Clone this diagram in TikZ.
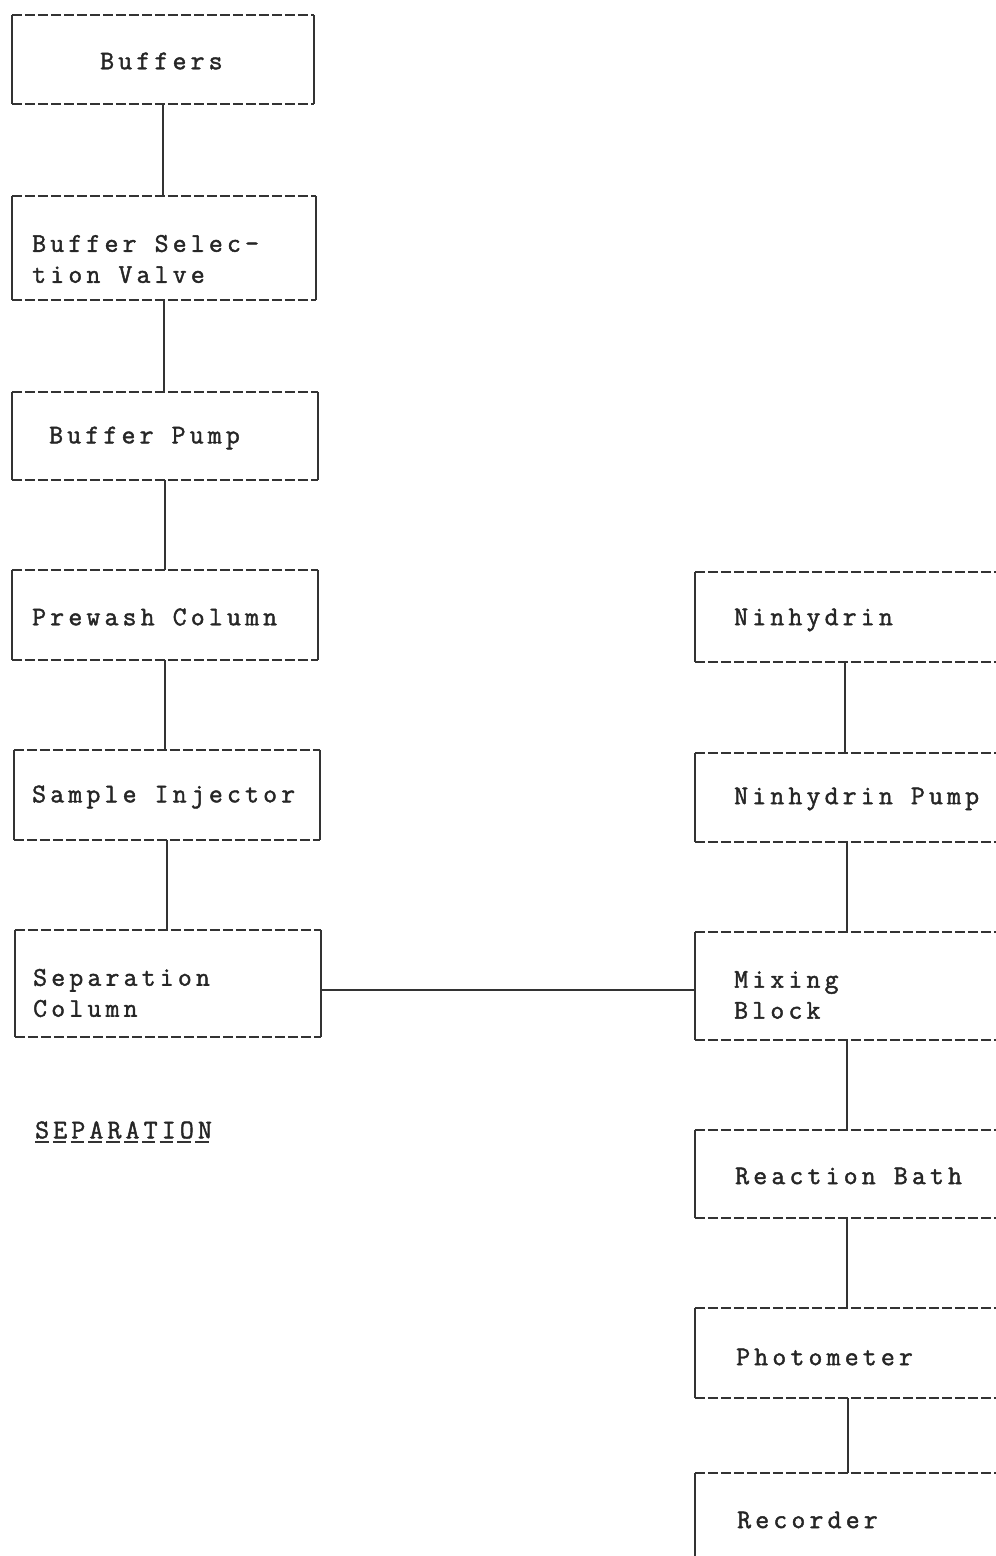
\documentclass[tikz,border=0pt]{standalone}
\usepackage{fontspec}
\newfontfamily\twfont{Latin Modern Mono}[LetterSpace=15.5,FakeBold=1.6]
\begin{document}
\begin{tikzpicture}[x=1pt,y=-1pt,
  ink/.style={draw=black!80, line width=1.7pt},
  dashline/.style={ink, dash pattern=on 10pt off 3pt},
  box/.style={inner sep=0pt, rectangle},
  lbl/.style={inner sep=0pt, anchor=west, align=left, text=black!85,
    font=\fontsize{27}{31}\selectfont\twfont},
  conn/.style={ink}
]
\useasboundingbox (0,0) rectangle (996,1556);
\clip (0,0) rectangle (996,1556);
\newcommand\boxlines[1]{%
  \draw[dashline] (#1.north west) -- (#1.north east);
  \draw[dashline] (#1.south west) -- (#1.south east);
  \draw[ink] (#1.north west) -- (#1.south west);
  \draw[ink] (#1.north east) -- (#1.south east);}

% left column boxes
\node[box, minimum width=302pt, minimum height=89pt] (buf) at (163,59.5) {};
\node[box, minimum width=304pt, minimum height=104pt] (bsv) at (164,248) {};
\node[box, minimum width=306pt, minimum height=88pt] (bp) at (165,436) {};
\node[box, minimum width=306pt, minimum height=90pt] (pw) at (165,615) {};
\node[box, minimum width=306pt, minimum height=90pt] (si) at (167,795) {};
\node[box, minimum width=306pt, minimum height=107pt] (sc) at (168,983.5) {};
\foreach \n in {buf,bsv,bp,pw,si,sc} {\boxlines{\n}}

% right column boxes (cut off at right edge)
\node[box, minimum width=330pt, minimum height=90pt] (nin) at (860,617) {};
\node[box, minimum width=330pt, minimum height=89pt] (np) at (860,797.5) {};
\node[box, minimum width=330pt, minimum height=108pt] (mb) at (860,986) {};
\node[box, minimum width=330pt, minimum height=88pt] (rb) at (860,1174) {};
\node[box, minimum width=330pt, minimum height=90pt] (ph) at (860,1353) {};
\node[box, minimum width=330pt, minimum height=160pt] (rec) at (860,1553) {};
\foreach \n in {nin,np,mb,rb,ph,rec} {\boxlines{\n}}

% labels
\node[lbl] (buft) at (100,61) {Buffers};
\node[lbl] (bsvt) at (32,259) {Buffer Selec-\\tion Valve};
\node[lbl] (bpt) at (49,438) {Buffer Pump};
\node[lbl] (pwt) at (32,617) {Prewash Column};
\node[lbl] (sit) at (32,797) {Sample Injector};
\node[lbl] (sct) at (33,993) {Separation\\Column};
\node[lbl] (sept) at (35,1130) {SEPARATION};
\draw[dashline, line width=1.5pt, dash pattern=on 13.5pt off 4.3pt] ([yshift=-3pt]sept.south west) -- ([yshift=-3pt]sept.south east);

\node[lbl] (nint) at (734,620) {Ninhydrin};
\node[lbl] (npt) at (734,799) {Ninhydrin Pump};
\node[lbl] (mbt) at (734,995) {Mixing\\Block};
\node[lbl] (rbt) at (735,1176) {Reaction Bath};
\node[lbl] (pht) at (736,1357) {Photometer};
\node[lbl] (rect) at (737,1520) {Recorder};

% connectors left
\draw[conn] (buf.south) -- (buf.south |- bsv.north);
\draw[conn] (bsv.south) -- (bsv.south |- bp.north);
\draw[conn] (bp.south) -- (bp.south |- pw.north);
\draw[conn] (pw.south) -- (pw.south |- si.north);
\draw[conn] (si.south) -- (si.south |- sc.north);

% connectors right
\draw[conn] ([xshift=-15pt]nin.south) -- ([xshift=-15pt]nin.south |- np.north);
\draw[conn] ([xshift=-13pt]np.south) -- ([xshift=-13pt]np.south |- mb.north);
\draw[conn] ([xshift=-13pt]mb.south) -- ([xshift=-13pt]mb.south |- rb.north);
\draw[conn] ([xshift=-13pt]rb.south) -- ([xshift=-13pt]rb.south |- ph.north);
\draw[conn] ([xshift=-12pt]ph.south) -- ([xshift=-12pt]ph.south |- rec.north);

% horizontal connector
\draw[conn] ([yshift=-6.5pt]sc.east) -- ([yshift=-6.5pt]sc.east -| mb.west);
\end{tikzpicture}
\end{document}
